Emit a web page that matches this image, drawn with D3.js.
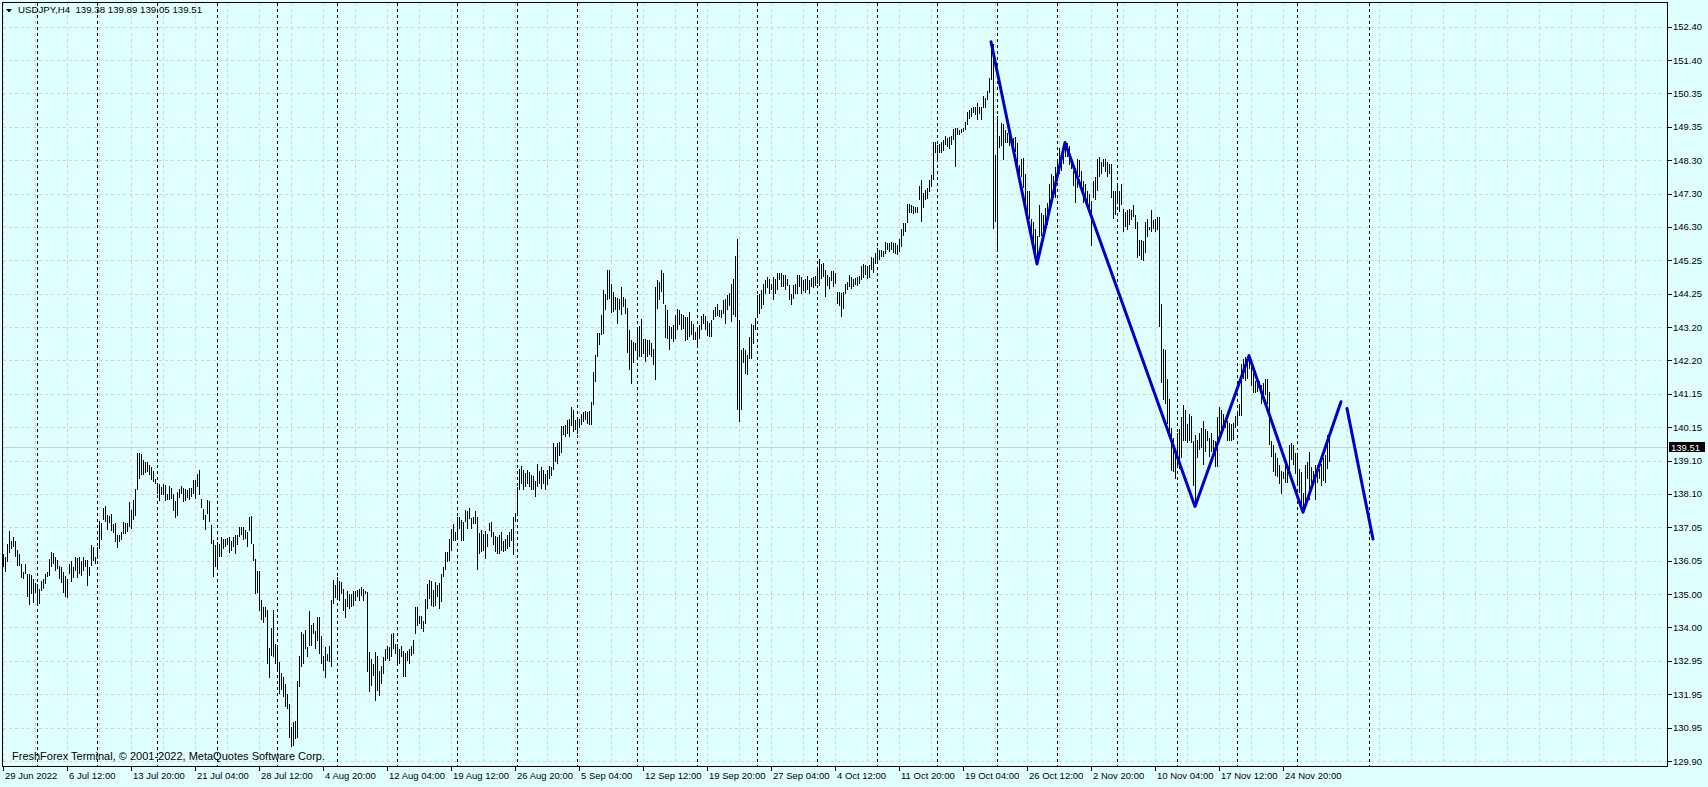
<!DOCTYPE html>
<html><head><meta charset="utf-8">
<script src="https://cdn.jsdelivr.net/npm/d3@7/dist/d3.min.js"></script>
<style>html,body{margin:0;padding:0;background:#e0ffff;overflow:hidden}text{font-family:"Liberation Sans",Arial,sans-serif;font-size:9.5px;white-space:pre}</style>
</head><body><svg id="c" width="1708" height="787"></svg>
<script>
// ---------- data ----------
const symbol = "USDJPY,H4";
const lastBar = [139.38, 139.89, 139.05, 139.51]; // open high low close
const barHigh = [
136.23,136.14,136.55,136.96,136.63,136.76,136.63,136.38,136.23,135.94,
135.68,135.94,135.63,135.63,135.61,135.48,135.35,135.33,135.17,135.43,
135.48,135.63,135.68,136.09,136.30,136.27,136.14,136.06,135.86,135.84,
135.68,135.58,135.48,135.94,136.04,135.84,136.16,136.12,136.16,136.02,
136.14,136.06,136.06,135.84,136.52,136.47,136.14,136.45,137.25,137.19,
137.66,137.70,137.44,137.42,137.47,137.17,137.19,136.81,136.84,136.91,
137.22,137.19,137.19,137.83,137.60,137.90,138.24,139.34,139.33,139.31,
139.11,139.06,139.06,138.96,138.91,138.80,138.55,138.41,138.39,138.29,
138.39,138.37,138.09,138.34,138.27,138.07,137.88,138.14,138.24,138.34,
138.27,138.24,138.19,138.27,138.26,138.50,138.52,138.68,138.82,137.93,
137.63,137.45,137.90,137.88,137.12,136.66,136.53,136.60,136.55,136.76,
136.71,136.71,136.73,136.76,136.63,136.76,136.81,136.81,137.06,137.08,
137.06,136.98,136.91,137.39,137.42,136.55,136.09,135.73,135.71,134.84,
134.61,134.63,134.53,133.36,133.99,134.53,133.47,133.38,132.92,132.59,
132.46,132.26,131.95,131.65,130.93,131.08,131.13,132.34,133.13,133.84,
133.79,133.91,133.38,134.51,134.08,134.12,133.89,134.32,134.30,133.74,
133.13,133.38,133.18,133.43,134.82,135.46,135.28,135.53,135.41,135.38,
135.17,134.86,135.12,135.02,135.02,135.12,135.10,135.14,135.17,135.22,
135.17,135.12,135.07,133.23,133.02,132.87,133.23,133.13,132.67,132.82,
133.08,133.33,133.43,133.38,133.79,133.81,133.50,133.50,133.33,133.43,
133.28,133.20,133.26,133.33,133.43,133.61,134.61,134.61,134.35,134.35,
134.20,134.86,135.32,135.45,135.41,135.14,135.38,135.29,135.35,135.63,
135.84,136.30,136.30,136.71,137.01,137.17,136.91,137.37,137.39,137.27,
137.22,137.59,137.57,137.66,137.35,137.37,137.57,137.37,136.88,136.98,
136.86,136.96,136.86,137.19,137.22,136.91,136.78,136.76,136.81,136.91,
136.65,136.71,136.81,136.91,137.01,137.39,137.49,138.29,138.85,138.95,
138.82,138.72,138.82,138.75,138.65,138.62,138.47,139.01,138.80,138.90,
138.82,138.70,138.82,138.95,138.92,139.64,139.52,139.64,139.67,140.15,
140.18,140.21,140.36,140.39,140.74,140.64,140.36,140.44,140.39,140.54,
140.59,140.62,140.59,140.62,140.90,141.82,142.33,143.01,143.01,143.56,
144.32,144.22,144.96,144.94,144.53,144.27,144.12,144.10,144.07,144.43,
144.12,144.07,143.79,143.12,142.79,142.74,142.71,143.15,143.22,143.45,
142.84,142.84,142.81,142.81,142.71,142.53,144.43,144.65,144.58,144.94,
144.85,143.86,143.71,143.22,143.20,143.25,143.56,143.76,143.71,143.59,
143.56,143.49,143.49,143.66,143.38,143.30,143.05,143.20,143.25,143.53,
143.61,143.53,143.38,143.32,143.40,143.73,143.81,143.90,143.73,143.71,
144.04,144.07,144.17,144.24,144.53,144.68,145.37,145.91,143.40,142.48,
142.54,142.48,142.33,142.89,143.30,143.25,143.46,144.17,144.22,144.32,
144.53,144.65,144.73,144.68,144.53,144.73,144.68,144.86,144.86,144.84,
144.78,144.78,144.68,144.48,144.22,144.48,144.51,144.78,144.78,144.73,
144.65,144.68,144.75,144.63,144.71,144.73,144.75,145.04,145.27,145.14,
145.16,144.94,144.78,144.73,144.92,144.92,144.84,144.27,144.27,144.24,
144.27,144.51,144.58,144.78,144.73,144.68,144.71,144.73,144.75,145.06,
145.12,145.09,145.06,145.09,145.35,145.30,145.47,145.63,145.55,145.55,
145.53,145.81,145.78,145.76,145.81,145.78,145.76,145.70,145.88,146.19,
146.39,146.39,146.96,146.98,146.93,146.90,146.88,146.88,147.51,147.70,
147.31,147.41,147.47,147.70,147.85,148.87,148.87,148.77,148.82,148.87,
148.93,149.05,148.98,149.01,149.05,149.28,149.31,149.31,149.25,149.28,
149.31,149.49,149.79,149.85,149.90,149.93,149.95,150.07,149.95,149.93,
150.28,150.20,150.44,150.82,151.94,151.88,148.47,149.67,149.04,149.46,
149.41,149.25,149.15,149.10,149.04,148.99,149.02,148.83,148.15,148.36,
148.39,147.89,147.36,147.36,146.52,146.42,146.21,146.00,146.94,146.68,
146.63,146.84,146.99,147.57,147.89,147.84,148.10,148.36,148.68,148.41,
148.68,148.85,148.83,148.73,148.39,147.99,147.94,148.36,148.33,147.99,
147.68,147.57,147.36,147.26,147.05,147.68,147.78,148.36,148.41,148.26,
148.36,148.36,148.26,148.20,148.20,147.36,147.36,147.57,147.36,147.57,
146.82,146.73,146.79,146.82,146.79,146.94,146.63,146.42,145.87,145.87,
145.84,146.42,146.52,146.26,146.79,146.47,146.52,146.58,146.58,143.90,
142.53,142.48,141.59,141.00,140.11,139.80,139.27,139.96,140.06,140.43,
140.80,140.64,140.22,140.54,140.48,139.69,139.90,139.75,139.96,140.11,
140.33,140.06,140.01,139.80,139.96,139.75,139.69,140.43,140.75,140.64,
140.54,140.38,140.33,140.27,140.22,140.27,140.48,140.54,140.85,142.06,
142.22,142.27,142.16,142.32,142.06,141.80,141.53,141.48,141.53,141.43,
141.48,141.59,141.61,141.22,139.69,139.59,139.33,139.17,138.96,138.80,
138.75,139.17,138.85,139.59,139.64,139.59,139.33,139.27,138.85,138.75,
138.12,138.96,139.06,139.38,138.91,138.80,138.96,138.96,138.85,139.01,
139.17,139.27,139.90,139.89];
const barLow = [
135.84,135.68,135.99,136.27,136.40,136.45,136.14,135.89,135.89,135.51,
135.48,135.63,134.92,134.69,135.02,134.73,135.04,134.69,134.71,135.10,
135.17,135.33,135.53,135.58,135.84,135.94,135.73,135.79,135.48,135.35,
135.04,134.92,134.90,135.63,135.38,135.51,135.71,135.51,135.63,135.58,
135.73,135.84,135.27,135.58,135.89,136.04,135.94,136.09,136.40,136.66,
137.27,137.22,136.98,137.19,136.96,136.88,136.60,136.42,136.60,136.66,
136.86,136.86,136.91,137.06,137.01,137.27,137.42,138.19,138.53,138.65,
138.65,138.72,138.75,138.65,138.50,138.45,138.39,138.09,137.88,138.04,
138.04,137.88,137.90,137.90,137.93,137.56,137.35,137.42,137.96,138.09,
137.85,137.88,137.96,137.90,137.98,138.09,137.93,138.29,138.04,137.66,
137.27,136.98,137.47,137.22,136.55,135.53,135.84,135.79,136.14,136.16,
136.40,136.45,136.53,136.27,136.35,136.45,136.23,136.53,136.76,136.81,
136.66,136.71,136.45,136.96,136.55,136.04,135.02,135.04,134.49,134.22,
134.12,134.30,132.87,132.44,133.13,133.10,132.87,132.65,131.95,132.07,
131.85,131.54,131.49,130.62,130.32,130.37,130.57,130.62,132.18,132.77,
132.87,133.33,133.08,133.43,133.43,133.79,133.33,133.59,133.18,132.87,
132.67,132.44,132.97,132.92,132.77,134.70,134.90,134.92,134.81,135.02,
134.51,134.28,134.61,134.56,134.61,134.66,134.81,134.92,134.81,134.97,
134.81,135.02,132.62,132.00,132.20,132.51,131.73,132.05,131.90,132.25,
132.56,132.97,133.02,132.97,133.08,133.33,133.18,132.82,132.87,133.08,
132.46,132.46,132.97,132.87,133.13,133.18,133.79,134.05,134.10,133.94,
133.84,134.10,134.56,134.86,134.66,134.63,134.66,134.92,134.56,134.76,
135.55,135.75,135.99,136.02,136.35,136.63,136.65,136.71,137.01,136.63,
136.65,137.22,137.01,137.32,137.01,137.15,137.17,135.75,136.25,136.30,
136.35,136.09,136.45,136.96,136.76,136.53,136.30,136.23,136.25,136.35,
136.30,136.35,136.40,136.45,136.65,136.20,137.22,137.42,138.19,138.39,
138.19,138.29,138.39,138.29,138.19,138.21,137.98,138.29,138.39,138.24,
138.39,138.21,138.37,138.55,138.62,138.82,139.06,139.01,139.26,139.33,
139.88,139.84,139.91,139.84,140.18,139.98,140.03,139.93,140.11,140.21,
140.28,140.34,140.23,140.21,140.21,140.80,141.51,142.28,142.64,142.94,
142.99,143.71,144.02,144.07,143.63,143.66,143.71,143.30,143.71,143.56,
143.81,143.61,142.40,141.87,141.44,142.09,142.46,142.18,142.28,142.28,
142.38,142.12,142.28,142.33,142.28,142.02,141.58,143.76,144.02,144.27,
143.91,142.87,142.84,142.48,142.84,142.74,142.84,143.10,143.25,143.10,
143.15,142.77,142.81,142.89,142.94,142.79,142.79,142.59,142.84,143.10,
143.30,143.10,142.91,142.89,142.89,143.40,143.49,143.53,143.49,143.46,
143.61,143.28,143.71,143.83,143.35,143.56,143.49,140.64,140.29,140.64,
142.08,141.77,141.72,142.23,142.23,142.69,143.10,143.51,143.61,143.76,
143.86,144.22,144.38,144.22,144.34,144.04,144.22,144.32,144.65,144.41,
144.43,144.32,144.45,144.04,143.86,144.07,144.22,144.22,144.43,144.22,
144.30,144.24,144.32,144.22,144.43,144.38,144.45,144.51,144.45,144.68,
144.73,144.12,144.45,144.35,144.61,144.43,144.53,143.90,143.83,143.49,
143.76,144.22,144.32,144.43,144.35,144.43,144.48,144.45,144.53,144.65,
144.71,144.78,144.68,144.71,144.94,144.84,145.14,145.19,145.24,145.33,
145.35,145.43,145.55,145.50,145.55,145.47,145.43,145.40,145.50,145.65,
145.98,146.11,146.37,146.70,146.68,146.66,146.70,146.68,147.09,146.42,
146.83,147.09,147.11,147.34,147.49,147.70,148.52,148.29,148.54,148.54,
148.60,148.77,148.72,148.64,148.77,148.93,148.11,149.08,149.08,149.13,
149.18,149.23,149.39,149.56,149.64,149.76,149.69,149.54,149.74,149.54,
149.90,149.90,150.15,150.36,150.77,146.21,146.42,145.58,148.68,148.73,
148.31,148.83,148.83,148.73,148.73,148.73,148.57,148.10,147.57,147.78,
147.47,146.94,146.58,146.52,146.00,145.73,145.37,145.13,145.95,146.00,
145.89,146.21,146.31,146.73,146.94,147.36,147.15,147.68,147.89,147.99,
148.20,148.41,148.41,148.15,148.05,147.52,147.00,147.47,147.78,147.52,
147.00,147.10,146.84,146.73,145.68,147.15,147.10,147.36,147.78,147.89,
148.10,147.94,147.78,147.89,147.15,146.52,146.63,146.99,146.73,146.94,
146.10,146.26,146.16,146.31,146.47,146.58,146.21,145.31,145.37,145.26,
145.21,145.47,145.95,146.16,146.10,146.21,146.10,146.16,143.21,141.48,
140.96,140.85,140.22,139.91,138.80,138.75,138.54,138.91,138.85,139.17,
139.69,139.69,139.64,139.69,139.64,138.33,137.70,139.17,139.43,139.49,
138.96,139.38,139.69,139.22,139.38,139.27,138.91,138.91,139.91,140.06,
140.01,140.11,139.69,139.69,139.69,139.75,140.11,140.22,140.48,140.48,
141.59,141.53,141.59,141.90,141.38,141.17,141.17,141.22,141.27,140.85,
140.90,141.11,140.85,139.59,139.22,138.75,138.64,138.59,138.38,138.07,
138.54,138.43,138.43,138.64,139.12,138.96,138.70,138.33,138.12,137.59,
137.52,137.80,138.54,137.91,138.43,138.38,137.91,138.43,138.54,138.33,
138.49,138.43,138.85,139.05];
const timeLabels = ["29 Jun 2022","6 Jul 12:00","13 Jul 20:00","21 Jul 04:00","28 Jul 12:00","4 Aug 20:00","12 Aug 04:00","19 Aug 12:00","26 Aug 20:00","5 Sep 04:00","12 Sep 12:00","19 Sep 20:00","27 Sep 04:00","4 Oct 12:00","11 Oct 20:00","19 Oct 04:00","26 Oct 12:00","2 Nov 20:00","10 Nov 04:00","17 Nov 12:00","24 Nov 20:00"];
const timeLabelBars = [0,32,64,96,128,160,192,224,256,288,320,352,384,416,448,480,512,544,576,608,640];
const priceLabels = ["152.40","151.40","150.35","149.35","148.30","147.30","146.30","145.25","144.25","143.20","142.20","141.15","140.15","139.10","138.10","137.05","136.05","135.00","134.00","132.95","131.95","130.95","129.90"];
const weekStartBars = [17,47,77,107,137,167,197,227,257,287,317,347,377,407,437,467,497,527,557,587,617,647,683];
const zigzagMain = [[494,151.94],[517,145.13],[531,148.85],[596,137.70],[623,142.32],[650,137.52],[669,140.91]];
const zigzagProjection = [[672,140.70],[685,136.70]];
const copyright = "FreshForex Terminal, \u00a9 2001-2022, MetaQuotes Software Corp.";

// ---------- layout ----------
const W = 1708, H = 787;
const P = {l: 2.5, t: 2.5, r: 1667.5, b: 766.5};
const svg = d3.select("#c");
const x = d3.scaleLinear().domain([0, barHigh.length - 1]).range([3, 3 + 2 * (barHigh.length - 1)]);
const y = d3.scaleLinear().domain([129.90, 152.40]).range([761, 26.7]);
const px = v => Math.round(v) + 0.5;

svg.append("rect").attr("width", W).attr("height", H).attr("fill", "#e0ffff");

// light grid
const gridCol = "#d9d0d6";
const gridValues = priceLabels.map((t, k) => 152.40 - k * (152.40 - 129.90) / (priceLabels.length - 1));
svg.append("g").selectAll("line").data(gridValues).join("line")
  .attr("x1", P.l).attr("x2", P.r).attr("y1", d => px(y(d))).attr("y2", d => px(y(d)))
  .attr("stroke", gridCol).attr("stroke-dasharray", "3,3").attr("shape-rendering", "crispEdges");
const vGrid = d3.range(0, 840, 16).filter(i => x(i) < P.r - 1);
svg.append("g").selectAll("line").data(vGrid).join("line")
  .attr("x1", d => px(x(d))).attr("x2", d => px(x(d))).attr("y1", P.t).attr("y2", P.b)
  .attr("stroke", gridCol).attr("stroke-dasharray", "3,3").attr("shape-rendering", "crispEdges");

// period separators
svg.append("g").selectAll("line").data(weekStartBars).join("line")
  .attr("x1", d => px(x(d))).attr("x2", d => px(x(d))).attr("y1", P.t).attr("y2", P.b)
  .attr("stroke", "#000").attr("stroke-dasharray", "3,3").attr("shape-rendering", "crispEdges");

// current price line
svg.append("line").attr("x1", P.l).attr("x2", P.r)
  .attr("y1", px(y(lastBar[3]))).attr("y2", px(y(lastBar[3])))
  .attr("stroke", "#d0c8cc").attr("shape-rendering", "crispEdges");

// bars
svg.append("g").selectAll("line").data(barHigh.map((h, i) => [i, h, barLow[i]])).join("line")
  .attr("x1", d => px(x(d[0]))).attr("x2", d => px(x(d[0])))
  .attr("y1", d => Math.round(y(d[1]))).attr("y2", d => Math.max(Math.round(y(d[2])), Math.round(y(d[1])) + 1))
  .attr("stroke", "#000").attr("stroke-width", 1).attr("shape-rendering", "crispEdges");

// zigzag
const line = d3.line().x(d => x(d[0])).y(d => y(d[1]));
[zigzagMain, zigzagProjection].forEach(pts => {
  svg.append("path").attr("d", line(pts)).attr("fill", "none")
    .attr("stroke", "#0000cd").attr("stroke-width", 3).attr("stroke-linejoin", "round").attr("stroke-linecap", "round");
});

// frame
svg.append("rect").attr("x", P.l).attr("y", P.t).attr("width", P.r - P.l).attr("height", P.b - P.t)
  .attr("fill", "none").attr("stroke", "#000").attr("shape-rendering", "crispEdges");

// price axis
const pa = svg.append("g");
pa.selectAll("line").data(gridValues).join("line")
  .attr("x1", P.r).attr("x2", P.r + 4).attr("y1", d => px(y(d))).attr("y2", d => px(y(d)))
  .attr("stroke", "#000").attr("shape-rendering", "crispEdges");
pa.selectAll("text").data(priceLabels).join("text")
  .attr("x", 1673).attr("y", (d, k) => y(gridValues[k]) + 3.5).attr("fill", "#000").text(d => d);
// current price tag
const cy = y(lastBar[3]);
svg.append("rect").attr("x", 1669).attr("y", Math.round(cy) - 5).attr("width", 36).attr("height", 10).attr("fill", "#000");
svg.append("text").attr("x", 1671).attr("y", cy + 3.5).attr("fill", "#fff").text(lastBar[3].toFixed(2));

// time axis
const ta = svg.append("g");
ta.selectAll("line").data(timeLabelBars).join("line")
  .attr("x1", d => px(x(d))).attr("x2", d => px(x(d))).attr("y1", P.b).attr("y2", P.b + 4)
  .attr("stroke", "#000").attr("shape-rendering", "crispEdges");
ta.selectAll("text").data(timeLabels).join("text")
  .attr("x", (d, k) => x(timeLabelBars[k]) + 2).attr("y", 778.5).attr("fill", "#000").text(d => d);

// header
svg.append("path").attr("d", "M6,9 L12,9 L9,12.5 Z").attr("fill", "#000");
svg.append("text").attr("x", 18).attr("y", 13.3).attr("fill", "#000").style("font-size", "9.7px")
  .text(symbol + "  " + lastBar.map(v => v.toFixed(2)).join(" "));

// copyright
svg.append("text").attr("x", 12).attr("y", 760).attr("fill", "#000").style("font-size", "11px").text(copyright);
</script>
</body></html>
